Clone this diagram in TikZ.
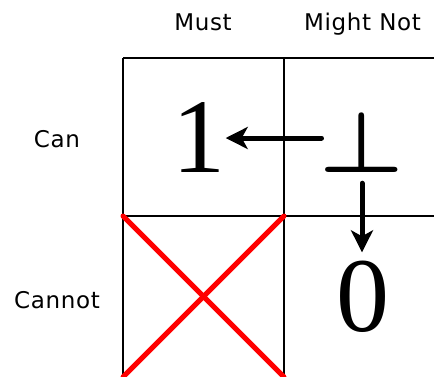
\RequirePackage{fix-cm}
\documentclass[tikz,border=0pt]{standalone}
\usepackage{fontspec}
\usepackage{graphicx}
\usetikzlibrary{arrows.meta}
\newfontfamily\labfont[LetterSpace=3]{DejaVu Sans}
\newfontfamily\digfont{Liberation Serif}
\tikzset{
  lab/.style={font=\labfont\fontsize{23}{23}\selectfont, inner sep=0pt, anchor=base},
  big/.style={font=\digfont\fontsize{106}{106}\selectfont, inner sep=0pt, anchor=base},
  grid/.style={line width=2pt, black},
  arr/.style={line width=5pt, line cap=round, -{Stealth[length=22pt, width=22pt, inset=6pt]}},
  cross/.style={line width=5pt, red, line cap=round}
}
\begin{document}
\begin{tikzpicture}[x=1pt, y=-1pt]
\useasboundingbox (0,0) rectangle (434,377);
\begin{scope}
\clip (0,0) rectangle (434,377);
\draw[grid] (123,58) -- (450,58);
\draw[grid] (123,216) -- (450,216);
\draw[grid] (123,378) -- (450,378);
\draw[grid] (123,58) -- (123,390);
\draw[grid] (284,58) -- (284,390);
\coordinate (c1) at (123,216);
\coordinate (c2) at (284,377);
\coordinate (c3) at (284,216);
\coordinate (c4) at (123,377);
\draw[cross] (c1) -- (c2);
\draw[cross] (c3) -- (c4);
\end{scope}
\node[lab] (must) at (203,31) {Must};
\node[lab] (mightnot) at (362.5,31) {Might Not};
\node[lab] (can) at (57,148) {Can};
\node[lab] (cannot) at (57,308) {Cannot};
\node[big] (one) at (199,173) {1};
\node[big] (zero) at (363,331) {0};
\node[font=\fontsize{86}{86}\selectfont, inner sep=0pt, anchor=base] (bot) at (362,172) {\scalebox{1.1}[1]{\boldmath$\bot$}};
\draw[arr, shorten <=-2pt] (bot.west |- one.east) -- (one.east);
\draw[arr, shorten <=11pt, shorten >=8pt] (bot.south) -- (bot.south |- zero.north);
\end{tikzpicture}
\end{document}
